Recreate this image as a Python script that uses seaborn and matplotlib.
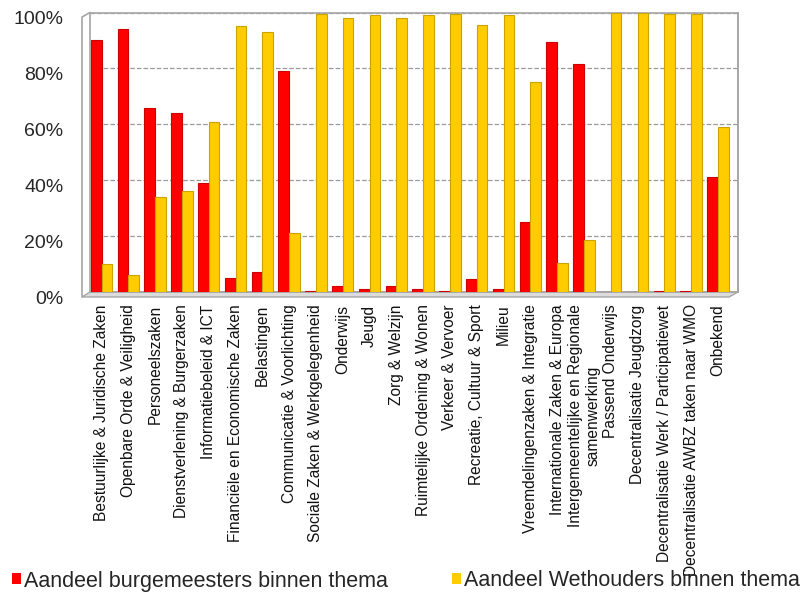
import numpy as np
import pandas as pd
import matplotlib
matplotlib.use("Agg")
import matplotlib.pyplot as plt
import matplotlib.transforms as mtransforms
from matplotlib.patches import Patch, Polygon
import seaborn as sns

themas = [
    "Bestuurlijke & Juridische Zaken",
    "Openbare Orde & Veiligheid",
    "Personeelszaken",
    "Dienstverlening & Burgerzaken",
    "Informatiebeleid & ICT",
    "Financiële en Economische Zaken",
    "Belastingen",
    "Communicatie & Voorlichting",
    "Sociale Zaken & Werkgelegenheid",
    "Onderwijs",
    "Jeugd",
    "Zorg & Welzijn",
    "Ruimtelijke Ordening & Wonen",
    "Verkeer & Vervoer",
    "Recreatie, Cultuur & Sport",
    "Milieu",
    "Vreemdelingenzaken & Integratie",
    "Internationale Zaken & Europa",
    "Intergemeentelijke en Regionale\nsamenwerking",
    "Passend Onderwijs",
    "Decentralisatie Jeugdzorg",
    "Decentralisatie Werk / Participatiewet",
    "Decentralisatie AWBZ taken naar WMO",
    "Onbekend",
]
burgemeesters = [90, 94, 66, 64, 39, 5, 7, 79, 0.5, 2, 1, 2, 1, 0.5, 4.5, 1,
                 25, 89.5, 81.5, 0, 0, 0.5, 0.5, 41]
wethouders = [10, 6, 34, 36, 61, 95, 93, 21, 99.5, 98, 99, 98, 99, 99.5, 95.5, 99,
              75, 10.5, 18.5, 100, 100, 99.5, 99.5, 59]
reeksen = ["Aandeel burgemeesters binnen thema", "Aandeel Wethouders binnen thema"]
kleuren = ["#ff0000", "#ffcc00"]

df = pd.DataFrame({
    "thema": themas * 2,
    "aandeel": np.array(burgemeesters + wethouders) / 100,
    "reeks": [reeksen[0]] * len(themas) + [reeksen[1]] * len(themas),
})

sns.set_style("white")
plt.rcParams["font.family"] = ["Liberation Sans", "DejaVu Sans"]

W, H = 805, 596
fig = plt.figure(figsize=(W / 100, H / 100), dpi=100)
L, R, B, T = 90, 738, 292, 12.5
ax = fig.add_axes([L / W, 1 - B / H, (R - L) / W, (B - T) / H])

sns.barplot(data=df, x="thema", y="aandeel", hue="reeks", palette=kleuren,
            width=0.8, saturation=1, legend=False, ax=ax, zorder=3)
for bar in ax.patches:
    fc = np.array(bar.get_facecolor()[:3])
    bar.set_edgecolor(tuple(fc * 0.8))
    bar.set_linewidth(0.8)

ax.set_xlim(-0.43, 23.75)
ax.set_ylim(0, 1)
ax.set_yticks([0, 0.2, 0.4, 0.6, 0.8, 1.0])
ax.set_yticklabels(["0%", "20%", "40%", "60%", "80%", "100%"], fontsize=14)
ax.set_xticks(range(len(themas)))
ax.set_xticklabels(themas, rotation=90, fontsize=11.2, color="#111111")
ax.tick_params(axis="x", length=0, pad=9)
ax.tick_params(axis="y", length=0, pad=19)
ax.set_xlabel("")
ax.set_ylabel("")

offset = mtransforms.ScaledTranslation(0, -0.05, fig.dpi_scale_trans)
for lab in ax.get_yticklabels():
    lab.set_transform(lab.get_transform() + offset)

ax.yaxis.grid(True, linestyle="--", color="#9a9a9a", linewidth=0.9)
ax.set_axisbelow(True)
for s in ax.spines.values():
    s.set_color("#a6a6a6")
    s.set_linewidth(1.2)


# 3D-achtige vloer en voorwand
def px(x, y):
    return ((x - L) / (R - L), (B - y) / (B - T))


floor = Polygon([px(L, B), px(R, B), px(729, 297), px(82, 297)], closed=True,
                transform=ax.transAxes, facecolor="#dcdcdc", edgecolor="#a6a6a6",
                linewidth=1, clip_on=False, zorder=2)
ax.add_patch(floor)
x0, y0 = px(82, 297)
x1, y1 = px(82, 17)
x2, y2 = px(L, T)
ax.plot([x0, x1, x2], [y0, y1, y2], transform=ax.transAxes, color="#a6a6a6",
        linewidth=1.2, clip_on=False)
xr0, yr0 = px(R, B)
xr1, yr1 = px(R, T)
ax.plot([xr0, xr1], [yr0, yr1], transform=ax.transAxes, color="#a6a6a6",
        linewidth=1.2, clip_on=False)

handles = [Patch(facecolor=kleuren[0], edgecolor="none"),
           Patch(facecolor=kleuren[1], edgecolor="none")]
fig.legend(handles, reeksen, loc="center left", bbox_to_anchor=(12 / W, 1 - 581 / H),
           ncol=2, frameon=False, fontsize=15.5, handlelength=0.4, handleheight=0.4,
           handletextpad=0.15, columnspacing=3.0, borderpad=0, borderaxespad=0)

fig.savefig("out.png", dpi=100)
